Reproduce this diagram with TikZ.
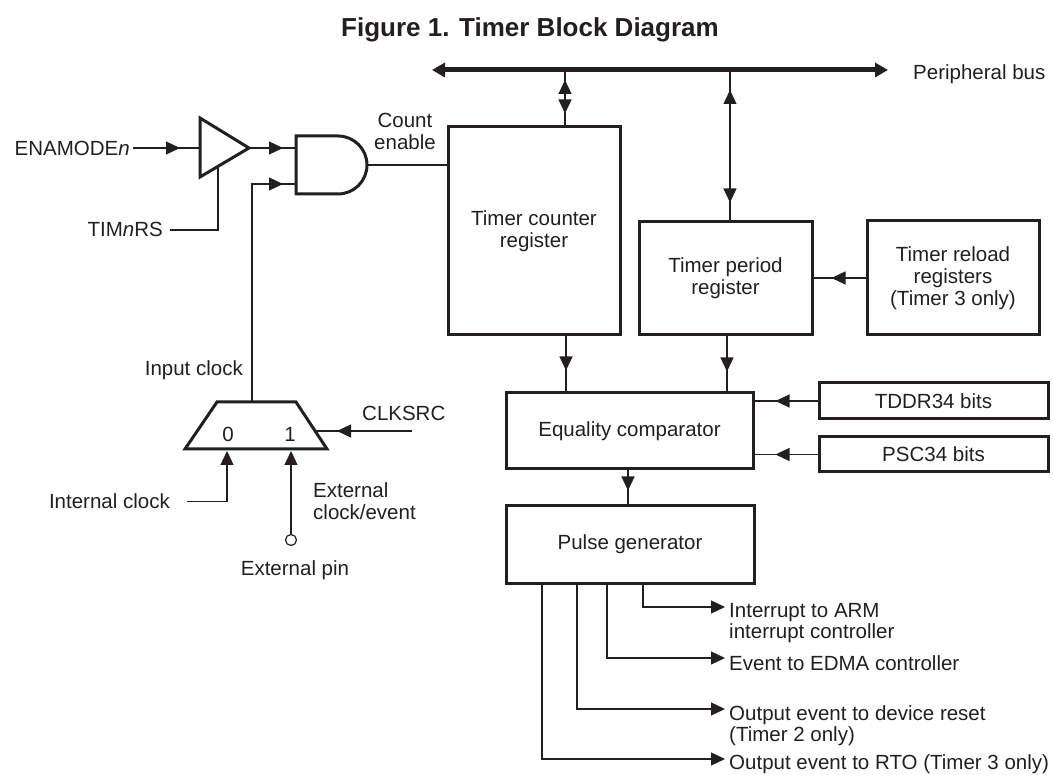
\documentclass[tikz,border=0pt]{standalone}
\usepackage{fontspec}
\setmainfont{Liberation Sans}
\usetikzlibrary{arrows.meta,decorations.markings,calc}
\definecolor{ink}{RGB}{35,31,32}
\newcommand{\lblfont}{\fontsize{20.5}{22}\selectfont}
\newcommand{\ttlfont}{\fontsize{26}{30}\selectfont\bfseries}
\tikzset{
  wire/.style={line width=1.2pt, draw=ink},
  tipmark/.style={postaction={decorate,decoration={markings,mark=at position #1 with {\arrow{Triangle[length=14pt,width=13pt]}}}}},
  tipback/.style={postaction={decorate,decoration={markings,mark=at position #1 with {\arrowreversed{Triangle[length=14pt,width=13pt]}}}}},
  endtip/.style={-{Triangle[length=14pt,width=13pt]}},
  block/.style={draw=ink, line width=3pt, inner sep=0pt, align=center, text=ink, font=\lblfont},
  lbl/.style={text=ink, font=\lblfont, inner sep=0pt},
  gate/.style={draw=ink, line width=3pt, line join=miter},
}
\begin{document}
\begin{tikzpicture}[x=1pt,y=-1pt]
\useasboundingbox (0,0) rectangle (1053,775);
\node[lbl, font=\ttlfont, anchor=base] (title) at (530,37) {Figure 1. Timer Block Diagram};

% blocks
\node[block, minimum width=172pt, minimum height=208pt] (counter) at (534,231) {Timer counter\\register};
\node[block, minimum width=173pt, minimum height=113pt] (period) at (725.5,278.5) {Timer period\\register};
\node[block, minimum width=172pt, minimum height=114pt] (reload) at (953,278) {Timer reload\\registers\\(Timer 3 only)};
\node[block, minimum width=247pt, minimum height=76pt] (equal) at (629.5,431) {Equality comparator};
\node[block, minimum width=248pt, minimum height=77pt] (pulse) at (630,544.5) {Pulse generator};
\node[block, minimum width=229pt, minimum height=36pt] (tddr) at (933.5,401) {TDDR34 bits};
\node[block, minimum width=229pt, minimum height=35pt] (psc) at (933.5,454.5) {PSC34 bits};

% peripheral bus
\coordinate (busL) at (432,70);
\coordinate (busR) at (888,70);
\draw[line width=5pt, draw=ink, {Triangle[length=13pt,width=14pt]}-{Triangle[length=13pt,width=14pt]}] (busL) -- (busR);
\node[lbl, anchor=base west] (buslbl) at (913,80) {Peripheral bus};

\coordinate (bc) at (565,70);
\draw[wire, tipback=10pt, tipmark=-12pt] (bc) -- (bc |- counter.north);
\coordinate (bp) at (730,70);
\draw[wire, tipback=20pt, tipmark=-18pt] (bp) -- (bp |- period.north);

% to comparator
\coordinate (xce) at (566,0);
\coordinate (xpe) at (727,0);
\coordinate (xep) at (628,0);
\draw[wire, tipmark=-21pt] (counter.south -| xce) -- (equal.north -| xce);
\draw[wire, tipmark=-20pt] (period.south -| xpe) -- (equal.north -| xpe);
\draw[wire, tipmark=-18pt] (reload.west) -- (reload.west -| period.east);
\draw[wire, tipmark=-21pt] (tddr.west) -- (tddr.west -| equal.east);
\draw[wire, tipmark=-21pt] (psc.west) -- (psc.west -| equal.east);
\draw[wire, tipmark=-14pt] (equal.south -| xep) -- (pulse.north -| xep);

% outputs
\coordinate (k1) at (643,607); \coordinate (e1) at (725,607);
\coordinate (k2) at (607,658); \coordinate (e2) at (725,658);
\coordinate (k3) at (577,709); \coordinate (e3) at (725,709);
\coordinate (k4) at (542,759); \coordinate (e4) at (725,759);
\draw[wire, endtip] (pulse.south -| k1) -- (k1) -- (e1);
\draw[wire, endtip] (pulse.south -| k2) -- (k2) -- (e2);
\draw[wire, endtip] (pulse.south -| k3) -- (k3) -- (e3);
\draw[wire, endtip] (pulse.south -| k4) -- (k4) -- (e4);
\node[lbl, anchor=base west] (o1a) at (729,617) {Interrupt to ARM};
\node[lbl, anchor=base west] (o1b) at (729,638) {interrupt controller};
\node[lbl, anchor=base west] (o2) at (729,670) {Event to EDMA controller};
\node[lbl, anchor=base west] (o3a) at (729,720) {Output event to device reset};
\node[lbl, anchor=base west] (o3b) at (729,741) {(Timer 2 only)};
\node[lbl, anchor=base west] (o4) at (729,769) {Output event to RTO (Timer 3 only)};

% buffer
\coordinate (bufin) at (200,148);
\coordinate (bufout) at (249,148);
\coordinate (buftop) at (200,118);
\coordinate (bufbot) at (200,177);
\coordinate (bufen) at (218,166.5);
\draw[gate] (buftop) -- (bufout) -- (bufbot) -- cycle;
\node[lbl, anchor=base east] (ena) at (130,156) {ENAMODE\textit{n}};
\draw[wire, tipmark=-20pt, shorten <=3pt] (ena.east |- bufin) -- (bufin);
\node[lbl, anchor=base east] (tim) at (163,237) {TIM\textit{n}RS};
\draw[wire, shorten <=7pt] (tim.east) -| (bufen);

% AND gate
\coordinate (and1) at (296,148);
\coordinate (and2) at (296,184);
\coordinate (andout) at (367,165);
\draw[gate] (296,136) -- (338,136) .. controls (354,136) and (367,149) .. (andout) .. controls (367,181) and (354,194) .. (338,194) -- (296,194) -- cycle;
\draw[wire, tipmark=-13pt] (bufout) -- (and1);
\draw[wire] (andout) -- (andout -| counter.west);
\node[lbl, align=center] (cnten) at (405,131.5) {Count\\enable};

% mux
\coordinate (muxtl) at (217,402);
\coordinate (muxtr) at (296,402);
\coordinate (muxbr) at (327,449);
\coordinate (muxbl) at (185,449);
\draw[gate] (muxtl) -- (muxtr) -- (muxbr) -- (muxbl) -- cycle;
\coordinate (muxo) at (252,402);
\draw[wire, tipmark=-13pt] (muxo) |- (and2);
\node[lbl, anchor=base east] (inclk) at (243,376) {Input clock};
\node[lbl, anchor=base] (m0) at (228,442) {0};
\node[lbl, anchor=base] (m1) at (290,442) {1};
\node[lbl, anchor=base west] (clk) at (362,421) {CLKSRC};
\coordinate (clkstart) at (412,431);
\coordinate (muxsel) at (315,431);
\draw[wire, tipmark=75pt] (clkstart) -- (muxsel);
\node[lbl, anchor=base east] (intclk) at (170,509) {Internal clock};
\coordinate (in0) at (227,449);
\draw[wire, endtip, shorten <=17pt, shorten >=2pt] (intclk.east) -| (in0);
\node[circle, draw=ink, line width=1.2pt, minimum size=11pt, inner sep=0pt] (pin) at (291,540) {};
\coordinate (in1) at (291,449);
\draw[wire, endtip, shorten >=2pt] (pin) -- (in1);
\node[lbl, align=left, anchor=west] (extlbl) at (313,501) {External\\clock/event};
\node[lbl, anchor=base] (pinlbl) at (295,575) {External pin};
\end{tikzpicture}
\end{document}
